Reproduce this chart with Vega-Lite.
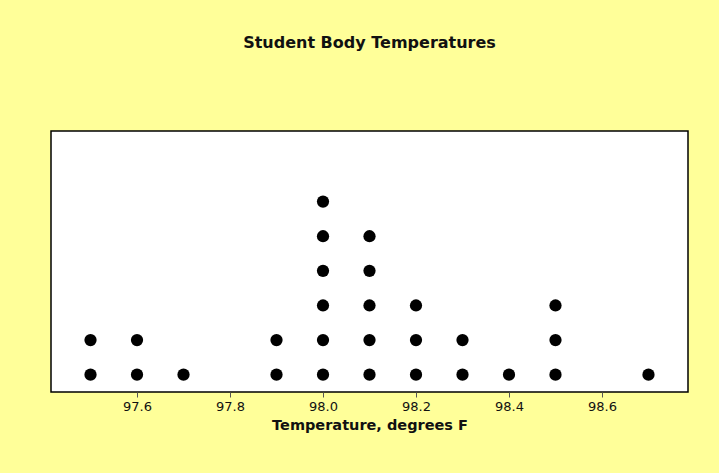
{
  "$schema": "https://vega.github.io/schema/vega-lite/v6.json",
  "width": 637,
  "height": 261,
  "autosize": {"type": "none"},
  "padding": {"left": 51, "top": 131, "right": 31, "bottom": 81},
  "background": "#FFFF99",
  "title": {
    "text": "Student Body Temperatures",
    "font": "DejaVu Sans",
    "fontSize": 16,
    "fontWeight": "bold",
    "color": "#111111",
    "anchor": "middle",
    "offset": 80
  },
  "config": {
    "view": {"fill": "white", "stroke": "#000000", "strokeWidth": 1.5}
  },
  "data": {
    "values": [
      {"temp": 97.5}, {"temp": 97.5},
      {"temp": 97.6}, {"temp": 97.6},
      {"temp": 97.7},
      {"temp": 97.9}, {"temp": 97.9},
      {"temp": 98.0}, {"temp": 98.0}, {"temp": 98.0}, {"temp": 98.0}, {"temp": 98.0}, {"temp": 98.0},
      {"temp": 98.1}, {"temp": 98.1}, {"temp": 98.1}, {"temp": 98.1}, {"temp": 98.1},
      {"temp": 98.2}, {"temp": 98.2}, {"temp": 98.2},
      {"temp": 98.3}, {"temp": 98.3},
      {"temp": 98.4},
      {"temp": 98.5}, {"temp": 98.5}, {"temp": 98.5},
      {"temp": 98.7}
    ]
  },
  "transform": [
    {"window": [{"op": "row_number", "as": "level"}], "groupby": ["temp"]}
  ],
  "mark": {"type": "circle", "size": 150, "opacity": 1, "color": "#000000"},
  "encoding": {
    "x": {
      "field": "temp",
      "type": "quantitative",
      "scale": {"domain": [97.415, 98.785], "nice": false, "zero": false},
      "axis": {
        "title": "Temperature, degrees F",
        "values": [97.6, 97.8, 98.0, 98.2, 98.4, 98.6],
        "format": ".1f",
        "grid": false,
        "domain": false,
        "tickColor": "#555555",
        "tickSize": 5,
        "labelFont": "DejaVu Sans",
        "labelFontSize": 13,
        "labelColor": "#111111",
        "labelPadding": 3,
        "titleFont": "DejaVu Sans",
        "titleFontSize": 14.5,
        "titleFontWeight": "bold",
        "titleColor": "#111111",
        "titlePadding": 5
      }
    },
    "y": {
      "field": "level",
      "type": "quantitative",
      "scale": {"domain": [0.5, 8.04], "nice": false, "zero": false},
      "axis": null
    }
  }
}
